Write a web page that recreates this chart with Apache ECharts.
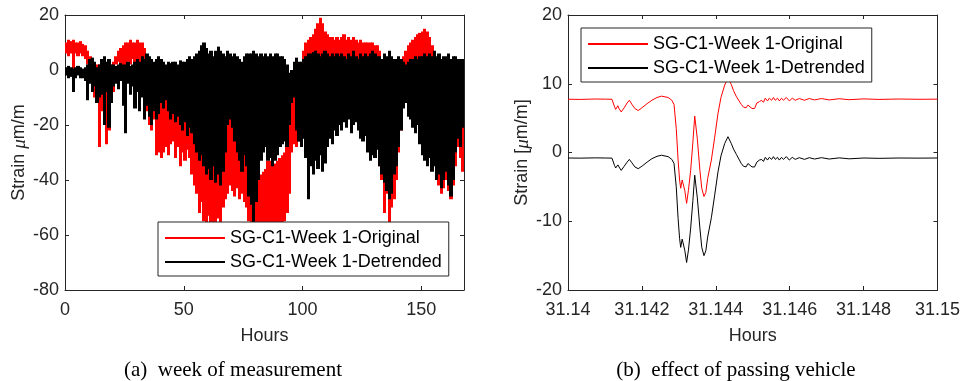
<!DOCTYPE html>
<html>
<head>
<meta charset="utf-8">
<script src="https://cdn.jsdelivr.net/npm/echarts@6/dist/echarts.min.js"></script>
<style>
  html, body { margin: 0; padding: 0; background: #fff; }
  #chart { width: 963px; height: 381px; }
</style>
</head>
<body>
<div id="chart"></div>
<script>
// ---- (a) one week of strain, hourly envelope of the raw record (hours 0..167) ----
// upper and lower extremes reached within each hour, µm/m
const originalHigh = [
  10, 11, 10.5, 11, 10, 10, 10.5, 9.5, 9, 7,
  5, 3, 2, 2, 2, 3, 2, 2, 2, 2,
  3, 5, 7, 8, 9, 10, 10, 11, 10, 10,
  11, 10, 10, 8, 4, 0, -2, -3, -4, -5,
  -6, -7, -8, -9, -10, -10, -11, -11, -12, -12,
  -13, -13, -14, -14, -15, -16, -17, -18, -18, -19,
  -19, -20, -20, -20, -19, -18, -17, -16, -15, -15,
  -20, -21, -22, -22, -23, -24, -25, -27, -30, -34,
  -36, -38, -38, -37, -36, -33, -33, -34, -34, -33,
  -32, -31, -30, -26, -18, -12, -9, -6, -3, 1,
  7, 10, 11, 12, 13, 15, 17, 19, 17, 14,
  13, 12, 12, 11, 12, 11, 12, 13, 11, 12,
  11, 12, 11, 10, 11, 10, 10, 10, 10, 10,
  9, 9, 7, 4, 1, 0, -1, -1, 0, 1,
  2, 3, 5, 7, 9, 10, 11, 12, 13, 13.5,
  14, 15, 14, 12, 9, 6, 4, 2, 1, 0,
  -1, -2, -3, -4, -5, -6, -6, -7
];
const originalLow = [
  6, 5, 6, -1, 6, 5, 6, 5, 4, 2,
  -2, -8, -10, -12, -28, -15, -20, -27, -22, -12,
  -8, 2, 3, 2, -3, -15, 3, 2, 4, -4,
  3, -5, 2, -6, -15, -20, -22, -18, -31, -30,
  -32, -30, -28, -31, -27, -26, -32, -28, -35, -30,
  -33, -29, -32, -38, -42, -45, -52, -48, -55, -57,
  -53, -58, -56, -58, -54, -57, -50, -47, -45, -42,
  -44, -46, -43, -47, -45, -48, -50, -55, -58, -60,
  -58, -57, -58, -60, -58, -60, -59, -58, -60, -58,
  -57, -56, -55, -52, -45, -30, -27, -28, -26, -20,
  -10, -3, -30, -25, -28, -24, -26, -22, -27, -24,
  -20, -17, -19, -15, -17, -13, -15, -12, -14, -11,
  -15, -13, -12, -15, -18, -19, -18, -24, -28, -27,
  -29, -27, -35, -40, -52, -45, -56, -50, -47, -40,
  -30, -22, -9, -7, -12, -13, -16, -18, -15, -22,
  -26, -28, -30, -27, -32, -30, -38, -42, -45, -43,
  -40, -44, -47, -42, -35, -28, -32, -37
];
// the same record after removing the slow thermal trend
const detrendedHigh = [
  1, 1.5, 1, 0.5, 1, 1.5, 1, 0.5, 1, 2,
  4, 4.5, 3, 1, 2, 4, 5, 3, 4, 2,
  2, 1.5, 2, 2.5, 2, 2, 3, 1.5, 2, 3,
  4, 3, 5, 4, 6, 5, 4, 3, 4, 5,
  4, 3, 2, 3, 2.5, 3, 3, 2, 3.5, 3,
  3, 4, 5, 4, 5, 6, 7, 9, 10, 8,
  6, 7, 5, 7, 8.5, 7, 6, 5, 7, 6,
  5, 6, 5, 4, 3, 5, 6, 6, 6, 7,
  6, 5, 6, 5, 6, 5, 6, 5, 6, 6,
  5, 5, 4, 2, -1, 0, 3, 4.5, 3, 3,
  4, 5, 6, 6, 6.5, 7, 6, 5, 6, 7,
  6, 5, 6, 5, 6, 5, 6, 5, 4, 6,
  5, 7, 5, 4, 6, 5, 6, 5, 6, 7,
  6, 5, 5, 4, 6, 5, 7, 5, 4, 4,
  5, 4, 3, 2, 3, 4, 4, 5, 4, 5,
  5, 6, 5, 6, 5, 7, 5, 6, 4, 5,
  5, 6, 4, 5, 5, 4, 4, 4
];
const detrendedLow = [
  -2, -3, -2.5, -8, -3, -2, -3, -3, -4, -11,
  -5, -8, -6, -12, -10, -9, -20, -8, -21, -12,
  -6, -5, -7, -4, -13, -23, -5, -9, -6, -14,
  -8, -15, -10, -18, -13, -17, -20, -15, -18, -16,
  -12, -14, -11, -15, -18, -16, -19, -17, -20, -22,
  -19, -24, -21, -23, -27, -30, -33, -31, -35, -38,
  -36, -40, -35, -41, -38, -42, -37, -30, -20, -18,
  -21, -26, -30, -33, -37, -31, -35, -46, -49, -56,
  -48, -40, -33, -30, -28, -33, -32, -35, -33, -31,
  -28, -27, -26, -28, -20, -12, -10, -22, -26, -28,
  -25, -32, -47, -35, -38, -33, -36, -31, -37, -34,
  -28, -25, -27, -22, -24, -20, -22, -19, -21, -18,
  -23, -20, -19, -22, -25, -26, -24, -30, -33, -31,
  -32, -29, -35, -38, -41, -44, -47, -45, -38, -35,
  -28, -22, -14, -12, -17, -18, -21, -23, -20, -27,
  -31, -33, -35, -32, -37, -35, -40, -38, -43, -40,
  -37, -42, -46, -40, -30, -25, -28, -21
];

// ---- (b) a single vehicle crossing, around hour 31.142 ----
const passHours = [
  31.14000, 31.14033, 31.14074, 31.14101, 31.14119, 31.14126, 31.14129, 31.14135, 31.14138, 31.14144,
  31.14152, 31.14160, 31.14166, 31.14173, 31.14181, 31.14190, 31.14200, 31.14214, 31.14227, 31.14241,
  31.14253, 31.14271, 31.14281, 31.14287, 31.14293, 31.14298, 31.14302, 31.14305, 31.14309, 31.14312,
  31.14316, 31.14321, 31.14326, 31.14332, 31.14338, 31.14343, 31.14350, 31.14357, 31.14362, 31.14368,
  31.14373, 31.14378, 31.14388, 31.14397, 31.14406, 31.14414, 31.14424, 31.14433, 31.14442, 31.14448,
  31.14456, 31.14469, 31.14475, 31.14482, 31.14487, 31.14491, 31.14498, 31.14505, 31.14511, 31.14518,
  31.14524, 31.14529, 31.14534, 31.14540, 31.14545, 31.14551, 31.14556, 31.14561, 31.14567, 31.14572,
  31.14578, 31.14583, 31.14591, 31.14599, 31.14607, 31.14615, 31.14626, 31.14640, 31.14653, 31.14667,
  31.14686, 31.14707, 31.14734, 31.14761, 31.14801, 31.14842, 31.14896, 31.14950, 31.15000
];
const passOriginal = [
  7.75, 7.72, 7.78, 7.76, 7.74, 6.65, 6.27, 6.8, 6.4, 5.9,
  6.5, 7.2, 7.6, 7.0, 6.4, 6.1, 6.5, 7.1, 7.6, 8.0,
  8.2, 8.0, 7.6, 7.0, 3.5, -1.1, -4.0, -5.2, -4.0, -3.8,
  -5.5, -7.4, -5.5, -2.6, 1.5, 5.3, 2.0, -2.6, -5.2, -6.4,
  -5.8, -3.8, -1.1, 2.2, 5.7, 8.0, 9.8, 10.8, 9.9, 9.0,
  8.1, 7.0, 6.6, 6.5, 6.9, 6.7, 6.4, 6.4, 7.2, 7.4,
  7.6, 7.3, 7.9, 7.5, 7.9, 7.6, 8.0, 7.6, 7.9, 7.5,
  7.9, 7.6, 8.0, 7.5, 7.9, 7.6, 7.85, 7.6, 7.85, 7.65,
  7.85, 7.65, 7.82, 7.68, 7.8, 7.72, 7.78, 7.74, 7.76
];
const passDetrended = [
  -0.80, -0.82, -0.78, -0.80, -0.82, -1.9, -2.25, -1.8, -2.1, -2.6,
  -2.0, -1.4, -1.0, -1.5, -2.1, -2.35, -2.0, -1.4, -0.9, -0.55,
  -0.4, -0.6, -1.0, -1.6, -5.0, -9.6, -12.5, -13.8, -12.6, -12.4,
  -14.2, -16.0, -14.2, -11.0, -7.0, -3.3, -6.6, -11.0, -13.8, -15.0,
  -14.3, -12.3, -9.5, -6.2, -2.8, -0.5, 1.3, 2.3, 1.3, 0.5,
  -0.3, -1.6, -2.0, -2.1, -1.6, -1.8, -2.1, -2.1, -1.4, -1.1,
  -1.0, -1.3, -0.7, -1.1, -0.7, -1.0, -0.6, -1.0, -0.7, -1.1,
  -0.7, -1.0, -0.6, -1.1, -0.7, -1.0, -0.75, -1.0, -0.75, -0.95,
  -0.75, -0.95, -0.78, -0.92, -0.8, -0.85, -0.8, -0.82, -0.8
];

const nameOriginal = 'SG-C1-Week 1-Original';
const nameDetrended = 'SG-C1-Week 1-Detrended';

const AX = '#262626';
const SANS = '"Liberation Sans", Arial, Helvetica, sans-serif';
const SERIF = '"Liberation Serif", "Times New Roman", serif';

// one filled column per hour, spanning that hour's low..high range;
// column edges are snapped to whole pixels so neighbours join without seams
function hourlyBand(name, high, low, color) {
  return {
    name, type: 'custom', xAxisIndex: 0, yAxisIndex: 0,
    data: high.map((v, h) => [h, v, low[h]]),
    encode: { x: 0, y: [1, 2] },
    renderItem(params, api) {
      const h = api.value(0);
      const top = api.coord([h, api.value(1)]);
      const bot = api.coord([h + 1, api.value(2)]);
      const x0 = Math.floor(top[0]);
      const x1 = Math.ceil(bot[0]);
      const cs = params.coordSys;
      const rect = echarts.graphic.clipRectByRect(
        { x: x0, y: top[1], width: x1 - x0, height: bot[1] - top[1] },
        { x: cs.x, y: cs.y, width: cs.width, height: cs.height });
      return rect && { type: 'rect', shape: rect, style: { fill: color } };
    }
  };
}
function pairUp(xs, ys) {
  return xs.map((x, i) => [x, ys[i]]);
}

function boxAxis(kind, gridIndex, position, min, max, interval, withLabels, extra) {
  const ax = {
    type: 'value', gridIndex, position, min, max, interval,
    axisLine: { show: true, onZero: false, lineStyle: { color: AX, width: 1 } },
    axisTick: { show: true, inside: true, length: 4, lineStyle: { color: AX, width: 1 } },
    axisLabel: { show: withLabels, color: AX, fontSize: 18, fontFamily: SANS,
                 margin: kind === 'x' ? 11 : 6 },
    splitLine: { show: false },
    axisPointer: { show: false }
  };
  return Object.assign(ax, extra || {});
}

function strainName(text) {
  return {
    name: text,
    nameLocation: 'middle',
    nameGap: 36,
    nameTextStyle: {
      rich: {
        a: { fontSize: 18, fontFamily: SANS, color: AX },
        m: { fontSize: 19, fontFamily: SERIF, fontStyle: 'italic', color: AX }
      }
    }
  };
}
const hoursName = {
  name: 'Hours', nameLocation: 'middle', nameGap: 37,
  nameTextStyle: { fontSize: 18, fontFamily: SANS, color: AX }
};

function legendAt(left, top) {
  return {
    orient: 'vertical', left, top,
    data: [nameOriginal, nameDetrended],
    itemWidth: 60, itemHeight: 14, itemGap: 6,
    padding: [7, 7, 5, 6],
    borderColor: AX, borderWidth: 1, backgroundColor: '#fff',
    selectedMode: false,
    itemStyle: { opacity: 0 },
    textStyle: { fontSize: 18, fontFamily: SANS, color: '#000' }
  };
}

const chart = echarts.init(document.getElementById('chart'), null, { renderer: 'canvas' });
chart.setOption({
  animation: false,
  backgroundColor: '#fff',
  grid: [
    { left: 65, top: 15, width: 399, height: 275 },
    { left: 568, top: 15, width: 371, height: 275 }
  ],
  xAxis: [
    boxAxis('x', 0, 'bottom', 0, 168, 50, true, Object.assign({}, hoursName,
      { axisLabel: { show: true, color: AX, fontSize: 18, fontFamily: SANS, margin: 11, showMaxLabel: false } })),
    boxAxis('x', 0, 'top', 0, 168, 50, false),
    boxAxis('x', 1, 'bottom', 31.14, 31.15, 0.002, true, Object.assign({}, hoursName)),
    boxAxis('x', 1, 'top', 31.14, 31.15, 0.002, false)
  ],
  yAxis: [
    boxAxis('y', 0, 'left', -80, 20, 20, true, strainName('{a|Strain }{m|μ}{a|m/m}')),
    boxAxis('y', 0, 'right', -80, 20, 20, false),
    boxAxis('y', 1, 'left', -20, 20, 10, true, strainName('{a|Strain [}{m|μ}{a|m/m]}')),
    boxAxis('y', 1, 'right', -20, 20, 10, false)
  ],
  legend: [legendAt(158, 222), legendAt(581, 28)],
  series: [
    // (b) vehicle crossing
    { name: nameOriginal, type: 'line', xAxisIndex: 2, yAxisIndex: 2,
      data: pairUp(passHours, passOriginal), symbol: 'none',
      lineStyle: { color: '#ff0000', width: 1 }, itemStyle: { color: '#ff0000' } },
    { name: nameDetrended, type: 'line', xAxisIndex: 2, yAxisIndex: 2,
      data: pairUp(passHours, passDetrended), symbol: 'none',
      lineStyle: { color: '#000000', width: 1 }, itemStyle: { color: '#000000' } },
    // (a) whole week, original underneath, detrended on top
    hourlyBand(nameOriginal, originalHigh, originalLow, '#ff0000'),
    hourlyBand(nameDetrended, detrendedHigh, detrendedLow, '#000000')
  ],
  graphic: [
    { type: 'text', x: 233, y: 370,
      style: { text: '(a)\u2002week of measurement', fill: '#000', align: 'center', verticalAlign: 'middle',
               font: '21px ' + SERIF } },
    { type: 'text', x: 736, y: 370,
      style: { text: '(b)\u2002effect of passing vehicle', fill: '#000', align: 'center', verticalAlign: 'middle',
               font: '21px ' + SERIF } }
  ]
});
</script>
</body>
</html>
